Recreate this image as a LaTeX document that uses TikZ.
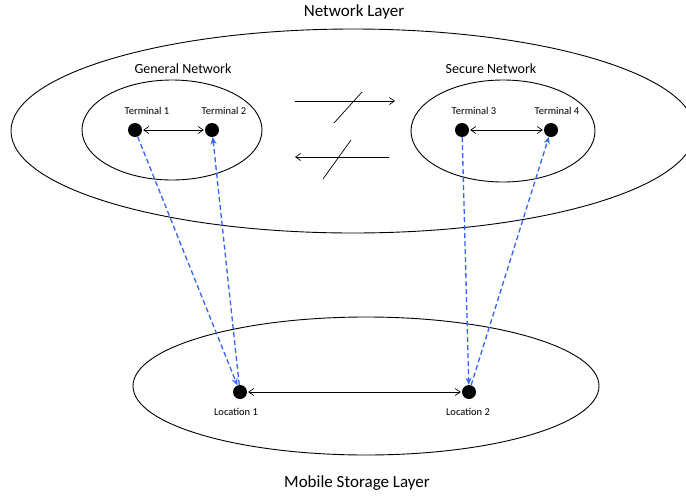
\documentclass[tikz,border=0pt]{standalone}
\usepackage{fontspec}
\setmainfont{Carlito}
\usetikzlibrary{arrows.meta}
\definecolor{dblue}{RGB}{50,100,245}
\begin{document}
\begin{tikzpicture}[x=1pt,y=-1pt,
  layer/.style={draw=black,line width=0.9pt},
  term/.style={circle,fill=black,minimum size=14pt,inner sep=0pt},
  lbl/.style={font=\fontsize{10.5}{12}\selectfont,inner sep=0pt},
  title/.style={font=\fontsize{14}{16}\selectfont,inner sep=0pt},
  bigger/.style={font=\fontsize{17}{19}\selectfont,inner sep=0pt},
  link/.style={{Straight Barb[length=5pt,width=7pt]}-{Straight Barb[length=5pt,width=7pt]},line width=0.7pt,shorten <=1pt,shorten >=1pt},
  flow/.style={-{Stealth[length=7pt,width=6pt]},dashed,dash pattern=on 5pt off 3pt,dblue,line width=1.3pt},
  bar/.style={line width=0.7pt},
  blk/.style={-{Straight Barb[length=5pt,width=7pt]},line width=0.7pt}]
\useasboundingbox (0,0) rectangle (686,496);
\clip (0,0) rectangle (686,496);
% layers
\draw[layer] (353,131) ellipse [x radius=342, y radius=102];
\draw[layer] (172,130) ellipse [x radius=90, y radius=50];
\draw[layer] (503,131) ellipse [x radius=92, y radius=51];
\draw[layer] (366,386) ellipse [x radius=233, y radius=69];
% texts
\node[bigger] (nl) at (354,12) {Network Layer};
\node[bigger] (ms) at (357,483) {Mobile Storage Layer};
\node[title] (gn) at (183,69) {General Network};
\node[title] (sn) at (491,69) {Secure Network};
% terminals
\node[term] (t1) at (135,130) {};
\node[term] (t2) at (212,130) {};
\node[term] (t3) at (462,130) {};
\node[term] (t4) at (551,130) {};
\node[term] (l1) at (240,392) {};
\node[term] (l2) at (469,392) {};
\node[lbl] at (147,111) {Terminal 1};
\node[lbl] at (224,111) {Terminal 2};
\node[lbl] at (474,111) {Terminal 3};
\node[lbl] at (557,111) {Terminal 4};
\node[lbl] at (236,412) {Location 1};
\node[lbl] at (468,412) {Location 2};
% links
\draw[link] (t1) -- (t2);
\draw[link] (t3) -- (t4);
\draw[link] (l1) -- (l2);
% blocked arrows
\coordinate (a1s) at (295,101); \coordinate (a1e) at (395,101);
\coordinate (a2s) at (389,157); \coordinate (a2e) at (295,157);
\coordinate (s1a) at (334,123); \coordinate (s1b) at (362,92);
\coordinate (s2a) at (323,179); \coordinate (s2b) at (351,140);
\draw[blk] (a1s) -- (a1e);
\draw[blk] (a2s) -- (a2e);
\draw[bar] (s1a) -- (s1b);
\draw[bar] (s2a) -- (s2b);
% flows
\draw[flow] (t1) -- (l1);
\draw[flow] (l1) -- (t2);
\draw[flow] (t3) -- (l2);
\draw[flow] (l2) -- (t4);
\end{tikzpicture}
\end{document}
